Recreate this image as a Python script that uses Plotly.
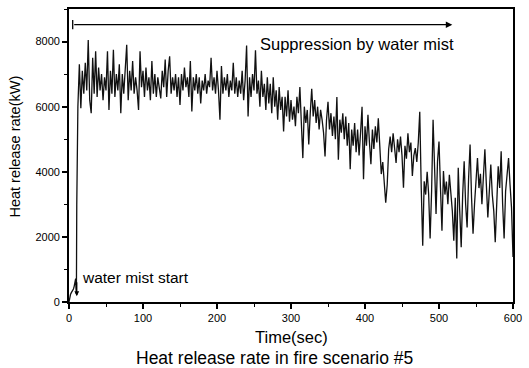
import plotly.graph_objects as go

# Time (s) and heat release rate (kW)
start_time = [0, 1, 2, 3, 4, 5, 6, 7, 8, 9, 9.5, 10, 10.5, 11]
start_hrr = [0, 150, 230, 280, 310, 340, 400, 480, 600, 720, 400, 250, 3000, 6000]

main_time = list(range(12, 601, 2))
main_hrr = [
    6000, 7300, 5950, 7100, 6400, 7350, 6500, 8050, 6200, 5800,
    7500, 6400, 7700, 6300, 7200, 6500, 7000, 6200, 6900, 6500,
    7700, 5900, 7100, 6400, 7750, 6300, 7000, 6500, 7300, 5800,
    7000, 6400, 7200, 7900, 6200, 7100, 6500, 7400, 6400, 6900,
    6500, 5900, 7700, 6600, 7100, 6300, 7200, 6500, 6900, 6200,
    7400, 6400, 7000, 6300, 6900, 6500, 6250, 7100, 6600, 7450,
    6300, 7100, 7550, 6400, 6900, 6500, 7000, 6300, 6900, 6050,
    7000, 6500, 7200, 6600, 6900, 6300, 7400, 5850, 6900, 6500,
    7000, 6400, 6900, 6100, 6800, 6500, 7000, 6400, 6800, 6600,
    7500, 6500, 6900, 6400, 7100, 6500, 5600, 7250, 6400, 6900,
    6500, 7000, 6300, 6800, 6500, 7350, 6400, 6900, 6300, 6800,
    6400, 7100, 6200, 6800, 7880, 5700, 6900, 6300, 7000, 6500,
    7730, 6400, 6800, 6000, 7100, 6300, 6700, 5900, 6900, 6100,
    6700, 5800, 6900, 6000, 6500, 5600, 6600, 5900, 6300, 5240,
    6300, 5700, 6500, 5540, 6200, 5600, 6000, 5400, 6300, 5800,
    6600, 5500, 4420, 6000, 5500, 5900, 4840, 5800, 6550, 5700,
    6200, 5500, 6000, 5300, 5900, 5600, 5200, 4470, 5600, 6150,
    5300, 5800, 5100, 5700, 5000, 6300, 4370, 5600, 5200, 5800,
    5000, 5700, 4800, 5500, 4080, 5300, 4800, 5500, 4600, 5300,
    4500, 5200, 6000, 3770, 5400, 4800, 5750, 4900, 4230, 5300,
    4700, 5400, 4900, 5640, 4600, 3930, 4300, 3500, 3050, 3600,
    4700, 5080, 4600, 5180, 4700, 4270, 5000, 4600, 5080, 4500,
    3510, 4800, 4400, 5180, 4600, 4900, 3870, 4500, 4730, 4300,
    4900, 5840, 3500, 1730, 3710, 3300, 4000, 3320, 1950, 3400,
    5600, 3800, 2700, 4320, 4930, 3500, 2190, 4020, 3300, 3700,
    3000, 3910, 3400, 2800, 1880, 3200, 1340, 4120, 2800, 1680,
    3300, 4320, 3000, 2290, 3800, 4840, 3200, 2100, 3000, 3600,
    4420, 3500, 3940, 3000, 3700, 4690, 3600, 2600, 3400, 4220,
    3300, 2800, 1840, 3200, 4170, 3500, 4630, 3000, 1950, 3400,
    4020, 4420, 3600, 2900, 1380,
]

time = start_time + main_time
hrr = start_hrr + main_hrr

x_ticks = [0, 100, 200, 300, 400, 500, 600]
y_ticks = [0, 2000, 4000, 6000, 8000]

FONT = "Arial, Liberation Sans, sans-serif"

fig = go.Figure()
fig.add_trace(go.Scatter(x=time, y=hrr, mode="lines",
                         line=dict(color="#111111", width=1.3),
                         showlegend=False, hoverinfo="skip"))

axis_common = dict(showgrid=False, zeroline=False, showline=True,
                   linecolor="black", linewidth=1.8, mirror=True,
                   ticks="outside", ticklen=5, tickwidth=1.5, tickcolor="black",
                   tickfont=dict(family=FONT, size=11, color="black"))

fig.update_xaxes(range=[0, 600], tickvals=x_ticks,
                 minor=dict(dtick=50, ticks="outside", ticklen=3, tickwidth=1.3, tickcolor="black"),
                 **axis_common)
fig.update_yaxes(range=[0, 9000], tickvals=y_ticks,
                 minor=dict(dtick=1000, ticks="outside", ticklen=3, tickwidth=1.3, tickcolor="black"),
                 **axis_common)

# Axis titles
fig.add_annotation(x=0.501, y=-0.12, xref="paper", yref="paper", yanchor="middle",
                   text="Time(sec)", showarrow=False,
                   font=dict(family=FONT, size=16.5, color="black"))
fig.add_annotation(x=-0.122, y=0.53, xref="paper", yref="paper", textangle=-90,
                   xanchor="center", yanchor="middle",
                   text="Heat release rate(kW)", showarrow=False,
                   font=dict(family=FONT, size=14.5, color="black"))

# Suppression arrow
fig.add_annotation(x=518, y=8520, ax=5, ay=8520, xref="x", yref="y", axref="x", ayref="y",
                   showarrow=True, arrowhead=2, arrowsize=1, arrowwidth=1.3, arrowcolor="black", text="")
fig.add_shape(type="line", x0=5, x1=5, y0=8380, y1=8660, xref="x", yref="y",
              line=dict(color="black", width=1.3))
fig.add_annotation(x=256, y=7910, xref="x", yref="y", text="Suppression by water mist",
                   showarrow=False, xanchor="left", yanchor="middle",
                   font=dict(family=FONT, size=16.5, color="black"))
# Water mist start
fig.add_annotation(x=15, y=760, xref="x", yref="y", text="water mist start",
                   showarrow=False, xanchor="left", yanchor="middle",
                   font=dict(family=FONT, size=15.5, color="black"))
fig.add_annotation(x=10.5, y=180, ax=10.5, ay=650, xref="x", yref="y", axref="x", ayref="y",
                   showarrow=True, arrowhead=2, arrowsize=0.8, arrowwidth=1.2, arrowcolor="black", text="")
# Caption
fig.add_annotation(x=0.462, y=-0.192, xref="paper", yref="paper", yanchor="middle",
                   text="Heat release rate in fire scenario #5", showarrow=False,
                   font=dict(family=FONT, size=17.5, color="black"))

fig.update_layout(width=529, height=368, margin=dict(l=69, r=10, t=7, b=66),
                  paper_bgcolor="white", plot_bgcolor="white",
                  font=dict(family=FONT, color="black"))

fig.write_html("out.html")
